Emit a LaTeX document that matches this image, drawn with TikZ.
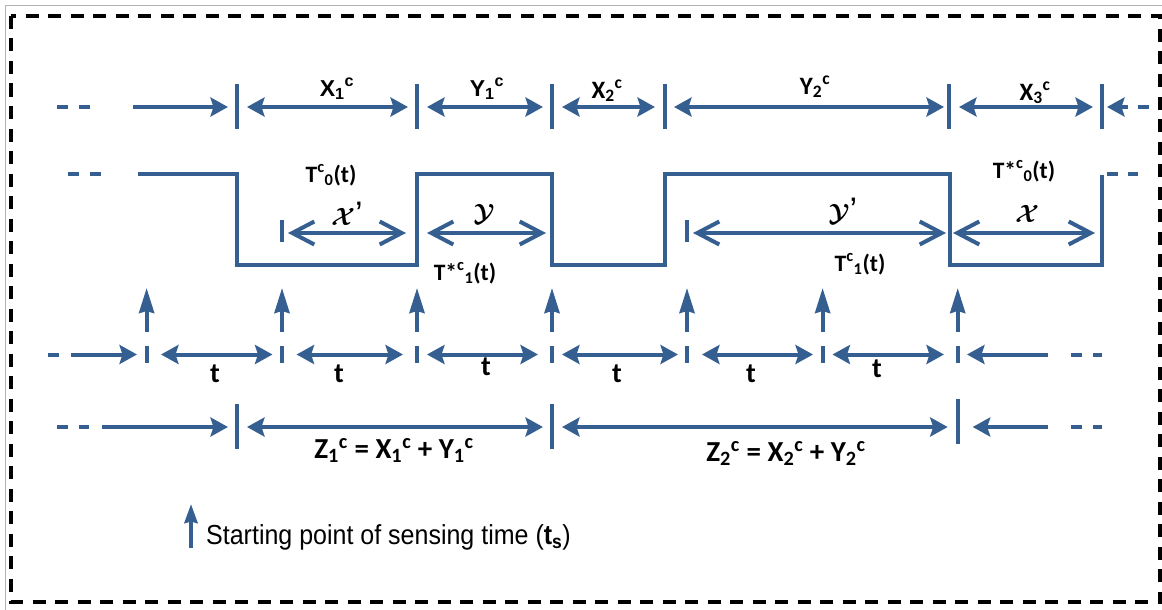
\documentclass[tikz,border=0pt]{standalone}
\usepackage{fontspec}
\setmainfont{Liberation Sans}
\newfontfamily\carl{Carlito}
\usetikzlibrary{arrows.meta}
\definecolor{wblue}{RGB}{54,95,145}
\begin{document}
\begin{tikzpicture}[x=1pt,y=-1pt,
  ln/.style={wblue, line width=4pt},
  fa/.style={ln, -{Stealth[length=17.5pt,width=19pt,inset=3pt]}},
  fab/.style={ln, {Stealth[length=17.5pt,width=19pt,inset=3pt]}-{Stealth[length=17.5pt,width=19pt,inset=3pt]}},
  oab/.style={ln, {Straight Barb[length=22pt,width=23pt]}-{Straight Barb[length=22pt,width=23pt]}},
  uparr/.style={ln, -{Stealth[length=25pt,width=15pt,inset=2pt]}},
  dsh/.style={ln, dash pattern=on 11pt off 11pt},
  labA/.style={font=\bfseries\fontsize{23}{27}\selectfont, inner sep=0pt, anchor=base},
  labB/.style={font=\carl\bfseries\fontsize{25}{29}\selectfont, inner sep=0pt, anchor=base},
  labT/.style={font=\carl\bfseries\fontsize{23.5}{27}\selectfont, inner sep=0pt, anchor=base},
  labt/.style={font=\carl\bfseries\fontsize{28}{32}\selectfont, inner sep=0pt, anchor=base},
  labZ/.style={font=\carl\bfseries\fontsize{29}{33}\selectfont, inner sep=0pt, anchor=base},
  labS/.style={font=\fontsize{34}{38}\selectfont\boldmath, inner sep=0pt, anchor=base},
]
\useasboundingbox (0,0) rectangle (1162,610);
% frames
\draw[gray!60, line width=1.3pt] (5.5,610) -- (5.5,5.7) -- (1162,5.7);
\draw[black, line width=4.6pt, dash pattern=on 13pt off 9.5pt] (11,16) rectangle (1160,602);

% ---------- row 1 : X / Y periods ----------
\draw[dsh] (57,107) -- (91,107);
\draw[fa] (133,107) -- (228,107);
\draw[fab] (247,107) -- (408,107);
\draw[fab] (427,107) -- (543,107);
\draw[fab] (562,107) -- (655,107);
\draw[fab] (674,107) -- (944,107);
\draw[fab] (959,107) -- (1093,107);
\draw[fa] (1128,107) -- (1107,107);
\draw[ln] (1138,107) -- (1149,107);
\foreach \x in {236.5,417,552,665,948.5,1102} \draw[ln] (\x,84) -- (\x,129);
\node[labA] (x1) at (337,96) {X\textsubscript{1}\textsuperscript{c}};
\node[labA] (y1) at (487,96) {Y\textsubscript{1}\textsuperscript{c}};
\node[labB] (x2) at (607,98) {X\textsubscript{2}\textsuperscript{c}};
\node[labB] (y2) at (815,94) {Y\textsubscript{2}\textsuperscript{c}};
\node[labB] (x3) at (1035,100) {X\textsubscript{3}\textsuperscript{c}};

% ---------- row 2 : state waveform ----------
\draw[dsh] (68,174) -- (103,174);
\draw[ln, line join=miter] (138,174) -| (236.5,265) -| (417,174) -| (552,265) -| (665,174) -| (950,265) -| (1102,175);
\draw[ln] (1107,174) -- (1118,174);
\draw[ln] (1128,174) -- (1138,174);
\node[labT] (t0) at (331,182) {T\textsuperscript{c}\textsubscript{0}(t)};
\node[labT] (ts0) at (1024,178) {T*\textsuperscript{c}\textsubscript{0}(t)};
\node[labT] (ts1) at (465,280) {T*\textsuperscript{c}\textsubscript{1}(t)};
\node[labT] (t1) at (860,271) {T\textsuperscript{c}\textsubscript{1}(t)};
\draw[ln] (282,220) -- (282,242);
\draw[oab] (288,233) -- (406,233);
\draw[oab] (427,233) -- (546,233);
\draw[ln] (687,220) -- (687,242);
\draw[oab] (693,233) -- (946,233);
\draw[oab] (953,233) -- (1095,233);
\node[labS] (lxp) at (347,225) {$\mathcal{X}$’};
\node[labS] (ly) at (484,221) {$\mathcal{Y}$};
\node[labS] (lyp) at (843,221) {$\mathcal{Y}$’};
\node[labS] (lx) at (1027,222) {$\mathcal{X}$};

% ---------- row 3 : sensing instants ----------
\foreach \x in {146.6,282,417,552,687,822.6,957.7} {
  \draw[uparr] (\x,332) -- (\x,288);
  \draw[ln] (\x,346) -- (\x,363);
}
\draw[ln] (48,354.5) -- (59,354.5);
\draw[fa] (70.7,354.5) -- (137,354.5);
\draw[fab] (161,354.5) -- (272.5,354.5);
\draw[fab] (296.6,354.5) -- (403,354.5);
\draw[fab] (427,354.5) -- (538,354.5);
\draw[fab] (562,354.5) -- (678,354.5);
\draw[fab] (702,354.5) -- (813,354.5);
\draw[fab] (832.5,354.5) -- (944,354.5);
\draw[fa] (1047.7,354.5) -- (967,354.5);
\draw[dsh] (1070.7,354.5) -- (1102,354.5);
\node[labt] (ta) at (215,382) {t};
\node[labt] (tb) at (339,382) {t};
\node[labt] (tc) at (486,375) {t};
\node[labt] (td) at (617,382) {t};
\node[labt] (te) at (751,382) {t};
\node[labt] (tf) at (877,377) {t};

% ---------- row 4 : Z periods ----------
\draw[dsh] (56.7,427) -- (89,427);
\draw[fa] (101.7,427) -- (228,427);
\draw[ln] (236.5,404) -- (236.5,449);
\draw[ln] (552,404) -- (552,449);
\draw[ln] (957.7,399) -- (957.7,444);
\draw[fab] (247,427) -- (543,427);
\draw[fab] (562,427) -- (947.7,427);
\draw[fa] (1047.7,427) -- (972.7,427);
\draw[dsh] (1070.7,427) -- (1102,427);
\node[labZ] (z1) at (394,458) {Z\textsubscript{1}\textsuperscript{c} = X\textsubscript{1}\textsuperscript{c} + Y\textsubscript{1}\textsuperscript{c}};
\node[labZ] (z2) at (786,461) {Z\textsubscript{2}\textsuperscript{c} = X\textsubscript{2}\textsuperscript{c} + Y\textsubscript{2}\textsuperscript{c}};

% ---------- legend ----------
\coordinate (legbot) at (191,548);
\coordinate (legtop) at (191,504);
\draw[ln, -{Stealth[length=19pt,width=13pt,inset=1.5pt]}] (legbot) -- (legtop);
\node[anchor=west, inner sep=0pt, yscale=1.1, font=\fontsize{25}{29}\selectfont] (leg) at (206,537) {Starting point of sensing time (\textbf{t\textsubscript{s}})};
\end{tikzpicture}
\end{document}
